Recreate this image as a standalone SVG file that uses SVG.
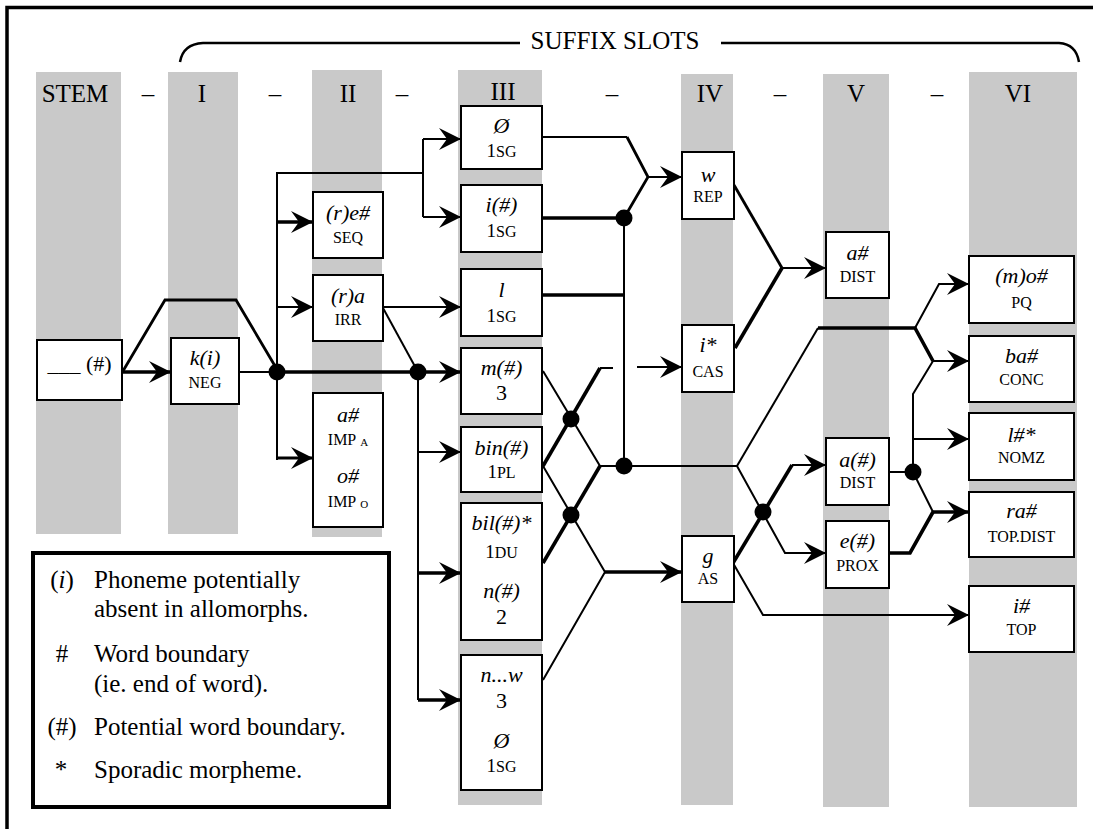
<svg xmlns="http://www.w3.org/2000/svg" width="1093" height="829" viewBox="0 0 1093 829">
<style>
text{font-family:"Liberation Serif","Times New Roman",serif;fill:#000}
.col{fill:#c9c9c9}
.box{fill:#fff;stroke:#000;stroke-width:2}
.thin{fill:none;stroke:#000;stroke-width:2}
.med{fill:none;stroke:#000;stroke-width:2.8}
.thick{fill:none;stroke:#000;stroke-width:3.6}
.arr{marker-end:url(#ah)}
.h{font-size:25px;text-anchor:middle}
.m{font-size:22px;font-style:italic;text-anchor:middle}
.g{font-size:16px;text-anchor:middle}
.n{font-size:22px;text-anchor:middle}
.lg{font-size:25px}
.dot{fill:#000}
</style>
<defs>
<marker id="ah" markerUnits="userSpaceOnUse" markerWidth="26" markerHeight="26" viewBox="-24 -13 26 26" refX="0" refY="0" orient="auto">
<path d="M0,0 L-22,-11 L-14,0 L-22,11 Z" fill="#000"/>
</marker>
</defs>
<rect width="1093" height="829" fill="#fff"/>
<path d="M7,829 V7.5 H1093" fill="none" stroke="#000" stroke-width="3.5"/>

<g id="columns">
<rect class="col" x="36" y="72" width="85" height="462"/>
<rect class="col" x="168" y="72" width="70" height="462"/>
<rect class="col" x="312" y="70" width="70" height="467"/>
<rect class="col" x="458" y="70" width="84" height="735"/>
<rect class="col" x="681" y="74" width="52" height="731"/>
<rect class="col" x="823" y="74" width="66" height="733"/>
<rect class="col" x="969" y="72" width="108" height="735"/>
</g>

<g id="headings">
<path d="M180,62 Q183,44 203,43 H520" fill="none" stroke="#000" stroke-width="2.5"/>
<path d="M721,43 H1059 Q1076,44 1079,62" fill="none" stroke="#000" stroke-width="2.5"/>
<text class="h" x="615" y="49">SUFFIX SLOTS</text>
<text class="h" x="75" y="102">STEM</text>
<text class="h" x="148" y="102">–</text>
<text class="h" x="202" y="102">I</text>
<text class="h" x="275" y="102">–</text>
<text class="h" x="348" y="102">II</text>
<text class="h" x="402" y="102">–</text>
<text class="h" x="503" y="100">III</text>
<text class="h" x="612" y="102">–</text>
<text class="h" x="710" y="102">IV</text>
<text class="h" x="780" y="102">–</text>
<text class="h" x="856" y="102">V</text>
<text class="h" x="937" y="102">–</text>
<text class="h" x="1018" y="102">VI</text>
</g>

<g id="connectors">
<path class="thick arr" d="M122,372 H171"/>
<path class="med" d="M123,371 L165,300 H236 L275,366"/>
<path class="thin" d="M239,372 H277"/>
<path class="thick arr" d="M277,372 H461"/>
<path class="thin" d="M277,460 V173 H423"/>
<path class="thin" d="M423,139 V217"/>
<path class="thin arr" d="M423,139 H461"/>
<path class="thin arr" d="M423,217 H461"/>
<path class="thick arr" d="M277,222 H313"/>
<path class="thin arr" d="M277,307 H313"/>
<path class="med arr" d="M277,458 H313"/>
<path class="thin arr" d="M383,307 H461"/>
<path class="thin" d="M383,308 L418,372"/>
<path class="thin" d="M418,372 V700"/>
<path class="thin arr" d="M418,452 H461"/>
<path class="thick arr" d="M418,573 H461"/>
<path class="thick arr" d="M418,700 H461"/>
<path class="thin" d="M542,137 H627"/>
<path class="med" d="M627,137 L648,177 L624,218"/>
<path class="thin arr" d="M648,177 H682"/>
<path class="thick" d="M542,218 H624"/>
<path class="thick" d="M542,295 H624"/>
<path class="thin" d="M624,218 V466"/>
<path class="thin" d="M543,371 L600,466 H737"/>
<path class="thick" d="M543,466 L600,368"/>
<path class="thin" d="M600,368 H613"/>
<path class="thin arr" d="M637,367 H682"/>
<path class="thin" d="M543,466 L605,572 L543,680"/>
<path class="thick" d="M600,466 L543,563"/>
<path class="thick arr" d="M605,572 H682"/>
<path class="med" d="M734,185 L782,268"/>
<path class="thick" d="M735,348 L782,268"/>
<path class="thin arr" d="M782,268 H826"/>
<path class="thin" d="M737,466 L818,328"/>
<path class="thick" d="M818,328 H915 L933,361"/>
<path class="thin arr" d="M915,328 L939,284 H969"/>
<path class="thin arr" d="M933,361 H969"/>
<path class="thin arr" d="M737,466 L785,553 H826"/>
<path class="thick" d="M733,563 L792,465"/>
<path class="thin arr" d="M792,465 H826"/>
<path class="thin arr" d="M733,563 L763,615 H969"/>
<path class="thin" d="M889,472 H913 V394 L933,361"/>
<path class="thin arr" d="M913,439 H969"/>
<path class="thin" d="M913,472 L933,512"/>
<path class="thick" d="M889,553 H910 L933,512"/>
<path class="thick arr" d="M933,512 H969"/>
<circle class="dot" cx="277" cy="372" r="8.5"/>
<circle class="dot" cx="418" cy="372" r="8.5"/>
<circle class="dot" cx="624" cy="218" r="8.5"/>
<circle class="dot" cx="624" cy="466" r="8.5"/>
<circle class="dot" cx="571" cy="419" r="8.5"/>
<circle class="dot" cx="571" cy="515" r="8.5"/>
<circle class="dot" cx="763" cy="512" r="8.5"/>
<circle class="dot" cx="913" cy="472" r="8.5"/>
</g>

<g id="stem"><rect class="box" x="37" y="340" width="85" height="60"/><text class="n" x="79.5" y="371">___ (#)</text></g>
<g id="neg"><rect class="box" x="171" y="338" width="68" height="66"/><text class="m" x="205" y="365">k(i)</text><text class="g" x="205" y="388">NEG</text></g>
<g id="seq"><rect class="box" x="313" y="192" width="70" height="66"/><text class="m" x="348" y="220">(r)e#</text><text class="g" x="348" y="243">SEQ</text></g>
<g id="irr"><rect class="box" x="313" y="275" width="70" height="66"/><text class="m" x="348" y="303">(r)a</text><text class="g" x="348" y="325">IRR</text></g>
<g id="imp"><rect class="box" x="313" y="393" width="70" height="134"/><text class="m" x="348" y="422">a#</text><text class="g" x="348" y="445">IMP<tspan font-size="11" dx="4" dy="1">A</tspan></text><text class="m" x="348" y="483">o#</text><text class="g" x="348" y="507">IMP<tspan font-size="11" dx="4" dy="1">O</tspan></text></g>

<g id="iii-null"><rect class="box" x="461" y="106" width="81" height="63"/><text class="m" x="501.5" y="133">Ø</text><text class="g" x="501.5" y="157"><tspan font-size="19">1</tspan>SG</text></g>
<g id="iii-i"><rect class="box" x="461" y="185" width="81" height="67"/><text class="m" x="501.5" y="212">i(#)</text><text class="g" x="501.5" y="237"><tspan font-size="19">1</tspan>SG</text></g>
<g id="iii-l"><rect class="box" x="461" y="269" width="81" height="67"/><text class="m" x="501.5" y="297">l</text><text class="g" x="501.5" y="322"><tspan font-size="19">1</tspan>SG</text></g>
<g id="iii-m"><rect class="box" x="461" y="348" width="81" height="66"/><text class="m" x="501.5" y="375">m(#)</text><text class="n" x="501.5" y="400">3</text></g>
<g id="iii-bin"><rect class="box" x="461" y="427" width="81" height="65"/><text class="m" x="501.5" y="455">bin(#)</text><text class="g" x="501.5" y="478"><tspan font-size="19">1</tspan>PL</text></g>
<g id="iii-bil"><rect class="box" x="461" y="503" width="81" height="137"/><text class="m" x="501.5" y="530">bil(#)*</text><text class="g" x="501.5" y="558"><tspan font-size="19">1</tspan>DU</text><text class="m" x="501.5" y="598">n(#)</text><text class="n" x="501.5" y="624">2</text></g>
<g id="iii-nw"><rect class="box" x="461" y="655" width="81" height="135"/><text class="m" x="501.5" y="682">n...w</text><text class="n" x="501.5" y="708">3</text><text class="m" x="501.5" y="748">Ø</text><text class="g" x="501.5" y="772"><tspan font-size="19">1</tspan>SG</text></g>

<g id="rep"><rect class="box" x="682" y="152" width="52" height="67"/><text class="m" x="708" y="182">w</text><text class="g" x="708" y="202">REP</text></g>
<g id="cas"><rect class="box" x="682" y="325" width="52" height="67"/><text class="m" x="708" y="352">i*</text><text class="g" x="708" y="377">CAS</text></g>
<g id="as"><rect class="box" x="682" y="536" width="52" height="66"/><text class="m" x="708" y="563">g</text><text class="g" x="708" y="584">AS</text></g>

<g id="dist1"><rect class="box" x="826" y="232" width="63" height="66"/><text class="m" x="857.5" y="260">a#</text><text class="g" x="857.5" y="282">DIST</text></g>
<g id="dist2"><rect class="box" x="826" y="438" width="63" height="67"/><text class="m" x="857.5" y="467">a(#)</text><text class="g" x="857.5" y="488">DIST</text></g>
<g id="prox"><rect class="box" x="826" y="521" width="63" height="67"/><text class="m" x="857.5" y="548">e(#)</text><text class="g" x="857.5" y="571">PROX</text></g>

<g id="pq"><rect class="box" x="969" y="256" width="105" height="67"/><text class="m" x="1021.5" y="283">(m)o#</text><text class="g" x="1021.5" y="308">PQ</text></g>
<g id="conc"><rect class="box" x="969" y="336" width="105" height="66"/><text class="m" x="1021.5" y="363">ba#</text><text class="g" x="1021.5" y="385">CONC</text></g>
<g id="nomz"><rect class="box" x="969" y="413" width="105" height="67"/><text class="m" x="1021.5" y="442">l#*</text><text class="g" x="1021.5" y="463">NOMZ</text></g>
<g id="topdist"><rect class="box" x="969" y="492" width="105" height="65"/><text class="m" x="1021.5" y="518">ra#</text><text class="g" x="1021.5" y="542">TOP.DIST</text></g>
<g id="top"><rect class="box" x="969" y="586" width="105" height="66"/><text class="m" x="1021.5" y="613">i#</text><text class="g" x="1021.5" y="635">TOP</text></g>

<g id="legend">
<rect x="33" y="553" width="356" height="254" fill="#fff" stroke="#000" stroke-width="4"/>
<text class="lg" x="62" y="588" text-anchor="middle">(<tspan font-style="italic">i</tspan>)</text>
<text class="lg" x="94" y="588">Phoneme potentially</text>
<text class="lg" x="94" y="617">absent in allomorphs.</text>
<text class="lg" x="62" y="662" text-anchor="middle">#</text>
<text class="lg" x="94" y="662">Word boundary</text>
<text class="lg" x="94" y="692">(ie. end of word).</text>
<text class="lg" x="62" y="735" text-anchor="middle">(#)</text>
<text class="lg" x="94" y="735">Potential word boundary.</text>
<text class="lg" x="61" y="778" text-anchor="middle">*</text>
<text class="lg" x="94" y="778">Sporadic morpheme.</text>
</g>
</svg>
